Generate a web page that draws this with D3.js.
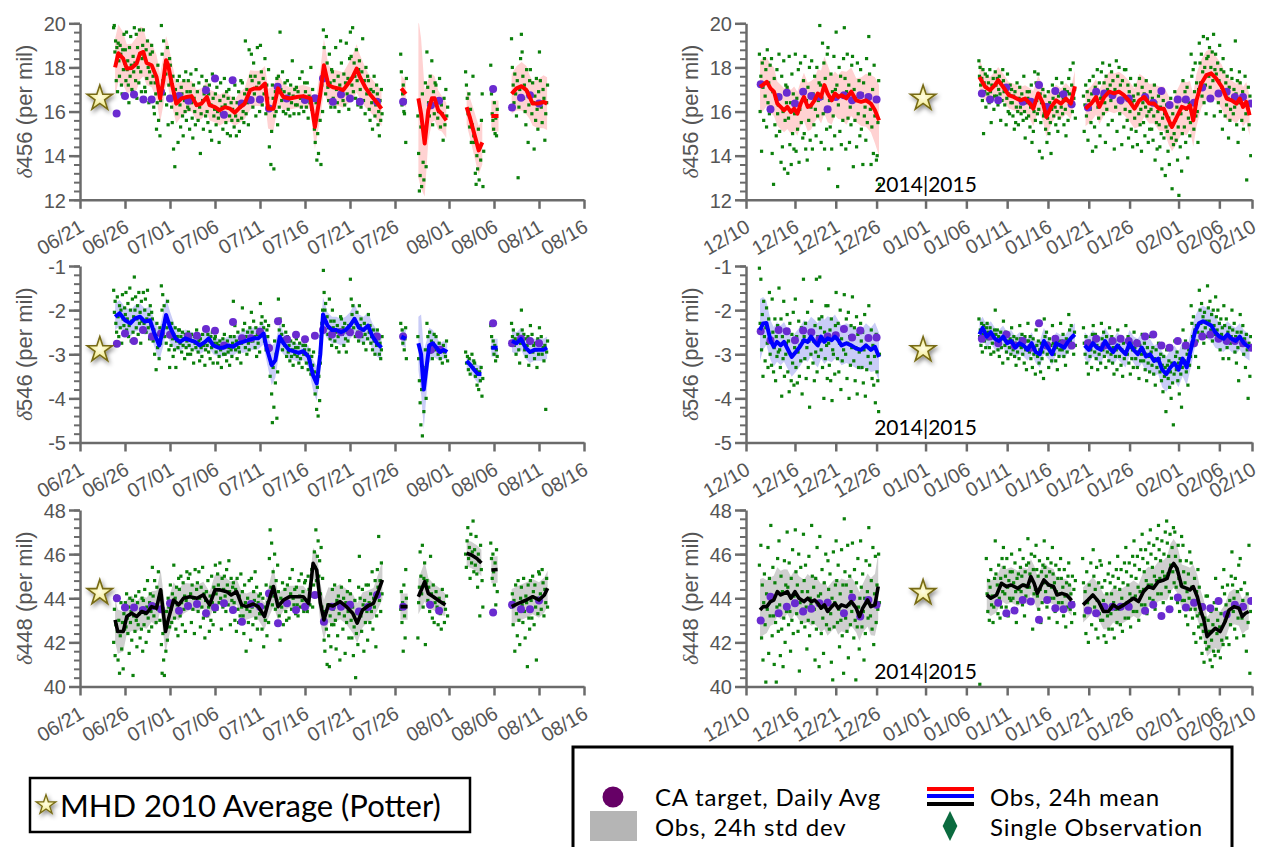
<!DOCTYPE html>
<html>
<head>
<meta charset="utf-8">
<script src="https://cdn.jsdelivr.net/npm/d3@7"></script>
<style>
  body { margin: 0; background: #fff; }
  svg text { font-family: "Liberation Sans", Helvetica, Arial, sans-serif; }
  svg text.gill { font-family: Lato, "Open Sans", sans-serif; }
</style>
</head>
<body>
<div id="chart"></div>
<script>
// ---- data: days are counted from 06/21/2014 (left) and 12/10/2014 (right) ----

const leftTicks = ["2014-06-21","2014-06-26","2014-07-01","2014-07-06","2014-07-11","2014-07-16",
  "2014-07-21","2014-07-26","2014-08-01","2014-08-06","2014-08-11","2014-08-16"];
const rightTicks = ["2014-12-10","2014-12-16","2014-12-21","2014-12-26","2015-01-01","2015-01-06",
  "2015-01-11","2015-01-16","2015-01-21","2015-01-26","2015-02-01","2015-02-06","2015-02-10"];

// MHD 2010 average (Potter) for 456, 546, 448
const potter = [16.6, -2.9, 44.25];
const potterDayL = 2.2, potterDayR = 21.7;

// single observations: [startDay, endDay, values spread over that span]
const obs456L = [
  [3.7,5,[19.8,19.9,18.7,19.2,17.4,18.9,16.9,19.1,18.3,17.6,19.0,18.6,17.2,16.8,18.8,17.9,19.5,18.2]],
  [5,6,[18.8,17.4,19.6,17.9,18.3,17.2,16.4,18.9,17.6,19.4,18.1,17.0,16.9,18.5,17.8]],
  [6,7,[19.8,18.2,17.4,19.5,16.6,18.9,18.0,17.3,19.7,18.6,17.8,16.9,18.4,19.0]],
  [7,8,[19.7,18.5,17.1,16.9,18.8,17.5,19.2,18.0,16.4,17.8,18.6,17.3,19.0]],
  [8,9,[18.7,17.6,16.2,15.9,17.3,16.8,15.2,16.4,18.1,15.6,17.0,14.9,16.5]],
  [9,10,[19.9,18.6,17.4,19.2,16.8,18.1,17.7,16.3,18.9,15.4,17.2,18.4]],
  [10,11,[18.1,17.3,16.2,15.5,17.6,14.3,16.8,13.5,17.0,16.4,15.9,17.4,14.6,16.6]],
  [11,12,[17.6,16.3,15.3,17.1,16.8,15.8,14.9,17.4,16.5,16.0,17.8,15.6,16.9,16.2]],
  [12,13,[17.4,16.1,15.2,16.9,17.7,16.4,15.7,14.8,17.2,16.6,16.0,15.4,17.9,16.3]],
  [13,14,[16.9,15.6,17.3,16.2,14.1,15.9,17.6,16.5,15.2,16.8,17.1,15.8]],
  [14,15,[17.4,16.0,15.5,16.8,17.2,15.1,16.3,14.7,17.7,16.6,15.8,16.1]],
  [15,16,[16.8,15.4,17.1,16.0,15.7,14.6,16.5,17.3,15.9,16.2,15.2,16.7]],
  [16,17,[17.5,16.3,15.5,16.9,15.0,16.6,17.0,15.8,14.9,16.4,15.6,16.1]],
  [17,18,[16.6,15.3,17.2,15.8,14.9,16.4,15.6,16.9,15.1,16.2,17.4,15.7]],
  [18,19,[17.3,16.0,15.5,16.8,19.2,15.9,17.0,16.4,15.4,18.8,16.6,17.6]],
  [19,20,[18.6,17.4,16.2,18.2,16.8,17.6,15.8,17.1,18.9,16.5,17.3,16.0]],
  [20,21,[19.0,17.8,16.3,17.5,16.8,18.4,15.9,17.2,16.6,17.9]],
  [21,22,[14.4,16.2,13.6,15.1,17.2,16.6,13.4,15.8,16.9,16.0,17.5,15.4]],
  [22,23,[17.6,16.2,19.6,17.0,16.5,17.8,16.0,16.9,17.3,15.9,16.6]],
  [23,24,[17.4,16.1,16.8,15.8,17.2,16.4,18.3,16.7,15.9,17.0,16.3]],
  [24,25,[17.1,16.3,16.9,15.9,17.5,16.6,16.2,17.8,16.5,16.0,17.3]],
  [25,26,[16.9,16.2,17.3,15.7,16.7,16.4,18.0,16.1,17.0,16.6]],
  [26,27,[15.2,14.6,16.4,13.8,15.0,14.1,16.6,15.6,13.6,17.2,16.0]],
  [27,28,[19.7,18.9,17.6,16.8,19.4,18.2,17.1,16.5,18.6,17.3,16.2,17.9]],
  [28,29,[17.8,16.6,17.4,16.2,18.9,17.0,16.4,17.6,16.0,17.2,19.2]],
  [29,30,[18.2,17.0,16.5,17.7,16.3,17.3,19.1,16.8,17.5,16.1,18.4]],
  [30,31,[19.6,18.5,17.2,19.8,16.9,18.2,17.6,16.6,18.8,17.4,16.3,17.9]],
  [31,32,[18.3,17.0,16.2,17.8,19.3,16.5,17.4,15.9,18.0,16.8,17.6]],
  [32,33,[17.4,16.1,15.6,17.0,16.4,15.2,16.9,17.6,15.8,16.3,17.2]],
  [33,33.6,[16.8,15.4,16.0,14.9,16.5,15.6,17.0,15.9]],
  [35.6,36.3,[18.6,17.8,16.3,16.8,17.2,16.0,15.9,16.5,14.6,17.5]],
  [37.5,38.5,[15.8,14.1,12.4,13.1,15.3,12.6,16.8,13.7,12.9,14.8,17.3,13.5]],
  [38.5,39.5,[18.7,17.1,16.4,15.8,17.6,16.2,18.3,15.4,16.9,15.9,17.3]],
  [39.5,40.9,[17.2,16.5,15.7,16.0,17.5,15.3,16.3,15.9,14.7,16.6,15.4,17.0,15.8,16.2]],
  [42.8,43.8,[17.8,17.2,16.6,15.9,16.8,15.3,16.1,14.6,15.4,17.6,14.9]],
  [43.8,44.9,[14.6,13.2,12.7,14.0,13.4,15.2,12.9,14.4,13.8,15.6,16.8,12.6,14.2]],
  [45.6,46.4,[18.1,16.8,15.9,15.6,15.2,16.4,15.0,15.7,14.9,16.1]],
  [47.9,49,[19.3,18.0,17.2,16.4,17.7,16.8,15.8,17.4,13.0,16.2,17.0,18.4]],
  [49,50,[19.5,18.7,17.6,16.6,17.2,16.0,15.4,17.9,16.9,14.6,16.3,17.4]],
  [50,51,[17.9,16.8,15.9,17.3,16.4,14.3,16.7,15.6,17.5,16.1,15.2,16.9]],
  [51,52,[18.7,17.4,16.2,15.5,17.0,16.6,14.7,15.9,16.4,17.2]]
];

const obs546L = [
  [3.7,5,[-1.55,-2.05,-1.8,-2.3,-2.5,-1.7,-2.15,-2.6,-1.9,-2.4,-2.0,-2.75,-1.65,-2.2,-2.35,-1.95]],
  [5,6,[-2.1,-1.6,-2.45,-2.2,-1.85,-2.6,-2.35,-1.5,-2.0,-2.7,-2.25,-1.75,-2.5,-2.15]],
  [6,7,[-1.25,-2.0,-1.7,-2.4,-2.2,-1.9,-2.55,-1.6,-2.3,-2.05,-2.75,-1.8,-2.25,-2.45]],
  [7,8,[-1.6,-2.3,-2.0,-1.75,-2.5,-2.2,-1.55,-2.4,-2.1,-2.65,-1.9,-2.35,-2.05]],
  [8,9,[-2.2,-2.7,-2.45,-3.0,-2.6,-3.35,-2.3,-2.85,-2.55,-3.1,-2.4,-2.75]],
  [9,10,[-1.45,-2.0,-1.65,-2.35,-1.9,-2.6,-2.2,-2.75,-2.4,-1.8,-2.55,-2.9,-3.3]],
  [10,11,[-2.5,-2.8,-2.3,-2.65,-3.05,-2.55,-2.9,-2.4,-3.3,-2.7,-2.6,-2.85,-2.45]],
  [11,12,[-2.45,-2.75,-2.6,-2.95,-2.5,-2.8,-2.65,-3.1,-2.55,-2.85,-2.7,-3.0]],
  [12,13,[-2.5,-2.8,-2.65,-3.0,-2.55,-2.9,-2.7,-3.2,-2.6,-2.75,-2.85,-2.45]],
  [13,14,[-2.6,-2.95,-2.7,-3.15,-2.65,-2.85,-3.05,-2.55,-2.8,-2.75,-3.25,-2.9]],
  [14,15,[-2.4,-2.8,-2.55,-2.95,-2.7,-3.1,-2.6,-2.85,-2.5,-3.2,-2.75,-2.65]],
  [15,16,[-2.6,-2.95,-2.75,-3.2,-2.8,-3.05,-2.7,-2.9,-3.3,-2.85,-2.65,-3.0]],
  [16,17,[-2.55,-3.0,-2.8,-3.15,-2.7,-2.95,-2.85,-3.25,-2.6,-2.9,-3.05,-2.75]],
  [17,18,[-1.8,-2.6,-2.35,-2.9,-2.7,-3.1,-2.5,-2.85,-2.95,-2.65,-3.2,-2.75]],
  [18,19,[-1.95,-2.45,-2.65,-2.3,-2.85,-2.6,-3.0,-2.5,-2.75,-2.9,-2.4,-2.7]],
  [19,20,[-2.05,-2.5,-2.7,-2.25,-2.6,-2.85,-2.4,-3.05,-2.55,-2.75,-2.45,-2.95]],
  [20,21,[-1.85,-2.3,-2.15,-2.55,-2.4,-2.7,-2.25,-2.9,-2.45,-2.6,-2.35]],
  [21,22,[-2.9,-3.5,-3.2,-3.9,-4.55,-3.3,-4.2,-2.7,-3.65,-3.0,-4.45,-3.4]],
  [22,23,[-1.75,-2.45,-2.2,-2.7,-2.55,-2.9,-2.35,-2.65,-2.8,-2.5,-3.05]],
  [23,24,[-2.6,-2.95,-2.8,-3.15,-2.7,-3.05,-2.9,-3.25,-2.75,-3.0,-2.85]],
  [24,25,[-2.65,-3.05,-2.85,-3.2,-2.75,-3.1,-2.95,-3.3,-2.8,-3.0,-2.9]],
  [25,26,[-2.8,-3.2,-3.0,-3.35,-2.9,-3.15,-3.45,-3.05,-3.25,-2.95]],
  [26,27,[-3.4,-3.9,-3.6,-4.25,-3.75,-4.4,-3.5,-4.05,-3.2,-2.6,-2.3,-2.0]],
  [27,28,[-1.1,-1.6,-2.0,-1.85,-2.3,-2.15,-2.55,-2.4,-1.75,-2.65,-2.25,-2.8]],
  [28,29,[-2.0,-2.4,-2.25,-2.7,-2.5,-2.85,-2.35,-2.6,-2.95,-2.45,-2.15]],
  [29,30,[-2.2,-2.55,-2.4,-2.8,-2.3,-2.65,-2.95,-2.5,-2.7,-2.35,-2.45]],
  [30,31,[-1.3,-1.75,-2.1,-1.9,-2.4,-2.2,-2.6,-2.3,-2.05,-2.5,-2.7]],
  [31,32,[-1.9,-2.35,-2.2,-2.6,-2.45,-2.75,-2.3,-2.55,-2.9,-2.4,-2.65]],
  [32,33,[-2.1,-2.5,-2.35,-2.75,-2.6,-2.9,-2.45,-2.7,-3.0,-2.55,-2.8]],
  [33,33.6,[-2.45,-2.8,-2.65,-3.0,-2.75,-3.1,-2.9,-2.6]],
  [35.6,36.3,[-2.3,-2.6,-2.45,-2.75,-2.55,-2.9,-2.65,-2.4,-3.1]],
  [37.5,38.5,[-2.6,-3.1,-3.6,-4.1,-4.6,-3.8,-4.85,-3.3,-4.3,-3.5,-2.9,-4.0]],
  [38.5,39.5,[-2.3,-2.6,-2.85,-2.5,-2.95,-2.7,-3.1,-2.75,-2.55,-2.9]],
  [39.5,40.9,[-2.6,-2.85,-3.0,-2.75,-3.1,-2.9,-3.2,-2.8,-2.95,-3.05,-2.7,-3.15]],
  [42.8,43.8,[-2.95,-3.2,-3.05,-3.35,-3.1,-3.45,-3.25,-3.0,-3.3,-3.15]],
  [43.8,44.8,[-3.2,-3.5,-3.35,-3.7,-3.45,-3.8,-3.4,-3.6,-3.3,-3.95,-3.55]],
  [45.6,46.4,[-2.35,-2.6,-2.85,-2.7,-3.0,-2.8,-3.15,-2.9,-3.05]],
  [47.9,49,[-2.3,-2.6,-2.45,-2.8,-2.65,-3.0,-2.7,-2.55,-2.9,-3.2,-2.75]],
  [49,50,[-2.0,-2.45,-2.7,-2.55,-2.9,-2.65,-3.05,-2.8,-2.6,-3.25,-2.75]],
  [50,51,[-2.35,-2.7,-2.55,-2.95,-2.8,-3.1,-2.75,-2.9,-3.3,-2.65,-3.0]],
  [51,52,[-2.4,-2.75,-2.6,-3.0,-2.85,-3.15,-2.8,-4.25,-2.95,-2.7]]
];

const obs448L = [
  [3.7,5,[42.0,43.5,41.4,42.8,44.1,42.5,41.2,43.0,40.6,42.3,43.8,41.7,42.9,40.8,43.3,42.6]],
  [5,6,[43.8,42.7,44.2,43.1,42.4,43.6,41.5,44.0,42.9,43.4,42.1,43.9,40.5,43.2]],
  [6,7,[43.6,42.5,44.1,43.0,41.8,43.8,42.8,44.3,43.3,42.2,43.5,42.6,44.0,41.6]],
  [7,8,[43.9,42.8,44.4,43.3,42.0,43.6,44.8,43.1,42.5,43.8,44.2,43.4,42.7]],
  [8,9,[45.4,44.1,43.2,44.8,43.7,42.9,44.5,43.5,45.2,44.0,43.0,44.3]],
  [9,10,[41.9,40.6,42.4,41.2,40.5,42.9,41.6,43.4,42.1,44.0,43.6,42.7]],
  [10,11,[44.6,43.5,42.9,44.2,43.8,45.5,43.1,44.0,42.6,44.5,43.7,42.3,44.9]],
  [11,12,[44.4,43.2,45.0,43.8,42.8,44.7,43.5,44.1,42.5,43.9,45.2,43.6]],
  [12,13,[44.9,43.7,45.1,44.2,42.9,44.6,43.5,44.0,42.4,45.3,43.8,44.4]],
  [13,14,[44.7,43.4,45.2,44.0,42.7,44.5,43.6,45.4,43.1,44.2,42.2,43.9]],
  [14,15,[44.3,43.2,44.8,43.6,42.5,44.1,43.0,45.0,43.8,42.8,44.5,43.4]],
  [15,16,[45.5,44.2,43.5,45.1,44.6,43.8,45.6,44.0,42.6,44.9,43.6,44.4]],
  [16,17,[45.0,44.1,43.4,45.3,44.6,43.7,45.7,44.3,42.8,44.9,43.9,44.5]],
  [17,18,[44.7,43.8,43.0,44.4,42.5,44.9,43.5,42.9,44.1,43.2,45.1,43.6]],
  [18,19,[44.3,43.2,42.4,44.6,43.8,41.6,43.5,44.0,42.9,44.8,43.4,42.1]],
  [19,20,[44.9,43.6,42.8,44.3,43.9,45.2,43.1,44.5,42.6,43.8,44.1,43.3]],
  [20,21,[44.2,43.3,42.6,44.0,41.8,43.6,43.0,44.6,42.3,43.8,42.9]],
  [21,22,[45.8,47.1,44.5,46.5,43.7,45.2,44.1,46.0,43.5,44.8,43.9,45.5]],
  [22,23,[44.3,43.2,42.1,44.0,43.6,44.7,42.8,43.9,44.4,43.4,43.0]],
  [23,24,[44.6,43.8,43.1,44.9,44.2,43.5,45.3,44.0,43.7,44.4,43.3]],
  [24,25,[44.5,43.7,43.2,44.8,44.1,43.6,45.1,43.9,44.3,43.4,44.7]],
  [25,26,[44.8,43.9,43.4,45.0,44.4,43.7,44.1,45.3,43.6,44.6]],
  [26,27,[46.1,45.4,47.1,44.8,45.9,46.6,45.0,45.7,44.2,46.3,43.6,44.9]],
  [27,28,[43.4,42.1,41.6,43.0,42.6,41.0,43.7,42.3,40.9,43.2,41.8,42.8]],
  [28,29,[44.4,43.5,42.8,44.6,43.0,41.7,43.9,42.3,44.1,43.3,41.2,43.7]],
  [29,30,[44.5,43.6,42.6,44.0,43.2,41.5,43.8,42.9,44.3,43.4,42.2,44.8]],
  [30,31,[44.2,43.0,42.2,43.6,41.4,42.7,43.9,40.4,42.4,43.3,41.9,44.5]],
  [31,32,[45.9,44.0,43.2,42.5,44.4,43.7,41.6,43.9,42.9,44.6,43.4,42.1]],
  [32,33,[44.6,43.8,42.9,44.2,43.4,45.2,42.6,44.0,43.6,44.8,41.8,43.2]],
  [33,33.6,[45.3,44.5,46.8,43.9,44.8,43.4,45.6,44.2]],
  [35.6,36.3,[43.5,44.3,42.9,43.8,41.6,44.6,43.2,42.2,45.3,44.0]],
  [37.5,38.5,[42.2,43.8,44.5,46.1,45.0,44.2,46.4,43.6,44.9,45.6,41.9,44.7]],
  [38.5,39.5,[44.8,43.9,44.5,43.4,45.9,44.2,43.1,44.6,42.9,43.8]],
  [39.5,40.9,[44.3,43.6,42.8,44.0,43.3,42.6,44.4,43.8,42.9,43.5,44.1,43.2]],
  [42.8,43.8,[46.0,45.4,46.6,47.2,45.8,46.3,44.9,46.9,45.6,46.1,47.5,45.2]],
  [43.8,44.8,[46.2,45.5,46.8,45.1,44.5,46.0,45.7,43.2,46.4,45.3,44.8,43.6]],
  [45.6,46.4,[46.5,45.8,44.9,46.0,45.2,44.6,45.6,43.7,46.2,44.3]],
  [47.9,49,[43.6,44.2,42.8,43.9,41.6,44.6,43.3,42.3,44.8,43.0,41.9,44.0]],
  [49,50,[44.5,43.7,42.9,44.9,43.4,42.2,44.1,43.8,40.9,44.6,43.1,42.6]],
  [50,51,[44.8,43.9,43.1,45.0,44.3,42.8,44.6,43.6,41.2,44.0,43.3,45.2]],
  [51,52,[45.1,44.2,43.5,45.3,44.7,43.2,44.4,43.8,44.9,43.6]]
];

const obs456R = [
  [1.6,3,[18.6,16.0,17.6,14.2,18.2,17.1,15.6,18.4,16.7,17.9,15.3,18.8,16.4,17.3,15.9,18.1]],
  [3,4,[16.2,18.4,14.1,16.9,12.7,17.5,15.4,16.6,14.9,17.9,15.9,16.3]],
  [4,5,[18.6,15.1,16.7,13.7,17.6,14.4,16.0,18.3,13.4,15.6,17.2,16.4]],
  [5,6,[17.1,13.2,15.7,18.5,14.5,16.4,13.6,17.7,15.0,16.8,14.3,15.9]],
  [6,7,[18.6,14.2,16.6,15.2,17.9,13.7,16.1,18.2,15.5,16.9,14.8]],
  [7,8,[17.4,15.0,18.5,14.3,16.5,13.8,17.1,15.6,18.0,14.7,16.2]],
  [8,9,[18.3,14.3,16.8,15.4,17.6,16.1,14.9,18.0,15.8,16.5,17.3]],
  [9,10,[19.9,17.2,14.6,16.6,19.1,15.9,18.2,14.3,17.5,16.0,15.2,18.6]],
  [10,11,[18.9,13.4,16.5,15.3,17.7,14.3,16.9,15.8,18.5,14.9,17.0]],
  [11,12,[19.6,17.2,12.6,16.3,18.0,15.1,17.6,14.5,16.7,15.6,18.4]],
  [12,13,[19.8,17.5,14.3,16.9,18.6,15.7,17.2,14.6,16.2,15.4,18.1]],
  [13,14,[18.5,13.5,17.0,15.6,16.6,14.4,18.2,15.9,17.4,14.9]],
  [14,15,[17.9,15.2,16.8,13.6,17.3,15.8,16.2,14.7,18.4,15.5,16.5]],
  [15,16.4,[19.4,17.7,16.1,13.6,15.3,17.0,14.1,18.1,15.8,16.6,13.8,14.0,15.5,17.4,12.7]],
  [28.5,29.5,[18.3,17.6,18.0,17.2,16.8,17.5,16.5,17.9,15.0,17.3,16.9,17.7,16.2,17.1]],
  [29.5,30.5,[17.6,16.8,17.3,16.4,17.9,16.9,15.5,17.2,16.6,17.5,16.1,16.7]],
  [30.5,31.5,[17.8,17.2,16.7,17.5,16.3,17.0,17.6,16.8,15.6,17.3,16.5,17.9]],
  [31.5,32.5,[17.4,16.9,16.3,17.1,15.4,16.6,17.7,16.0,16.8,15.9,17.2,16.4]],
  [32.5,33.5,[17.0,16.4,15.8,16.7,15.2,16.9,15.5,16.2,17.3,16.0,15.4,16.6]],
  [33.5,34.5,[17.1,16.2,15.9,16.8,16.5,15.6,17.6,16.0,14.8,16.4,15.7,16.9]],
  [34.5,35.5,[16.6,15.8,16.9,15.3,16.2,17.2,14.6,16.5,15.1,16.0,17.8,15.6]],
  [35.5,36.5,[17.3,16.5,15.9,17.7,16.1,14.2,16.8,15.5,16.4,13.9,17.0,15.8]],
  [36.5,37.5,[15.9,16.7,15.2,16.3,14.6,15.7,16.9,15.0,16.4,15.5,14.1,16.1]],
  [37.5,38.5,[17.2,16.6,15.8,16.9,16.2,15.4,17.5,16.0,15.1,16.7,15.7,16.4]],
  [38.5,39.5,[16.8,16.2,17.3,15.9,16.6,15.4,17.0,16.1,14.9,16.5,16.9,15.6]],
  [39.5,40.4,[17.5,16.8,17.9,16.4,17.2,16.0,18.2,16.6,17.0,15.7]],
  [41.3,42.5,[16.7,15.1,16.3,17.2,15.8,16.9,14.7,16.5,17.4,16.1,15.5,16.8,14.2]],
  [42.5,43.5,[17.6,16.5,15.3,17.1,14.4,16.8,17.9,16.2,15.7,17.3,14.9,16.6]],
  [43.5,44.5,[17.8,16.7,18.2,15.9,17.3,16.4,14.6,17.6,16.1,17.0,15.4,16.9]],
  [44.5,45.5,[18.1,17.2,16.5,17.8,15.6,17.4,16.8,14.3,17.0,16.2,18.3,15.1]],
  [45.5,46.5,[17.6,16.9,18.0,15.9,17.2,16.4,14.5,17.4,16.6,15.3,17.9,16.1]],
  [46.5,47.5,[17.9,16.6,15.6,17.2,14.8,16.9,16.0,17.5,15.2,16.4,14.4,16.7]],
  [47.5,48.5,[16.5,15.7,17.2,15.1,16.3,14.5,16.8,15.9,17.5,15.4,16.1,14.2]],
  [48.5,49.5,[17.1,16.4,15.5,16.8,14.9,16.2,17.4,15.8,16.6,14.6,16.0,15.2]],
  [49.5,50.5,[16.9,16.1,15.2,16.6,14.7,15.8,17.2,13.8,16.4,15.5,14.3,16.0]],
  [50.5,51.5,[16.7,15.4,14.4,16.2,15.0,13.4,15.7,16.5,14.8,15.9,13.1,15.3]],
  [51.5,52.5,[16.3,15.1,14.2,15.7,13.6,15.4,16.6,14.8,12.5,15.9,14.5,15.0]],
  [52.5,53.5,[16.9,15.6,14.7,16.2,13.8,15.3,12.2,16.5,14.4,15.9,13.3,15.0]],
  [53.5,54.5,[17.4,16.5,15.3,16.9,14.6,16.1,17.1,13.9,15.7,16.4,14.9,15.5]],
  [54.5,55.5,[18.6,17.6,16.4,17.9,15.2,16.9,18.2,15.8,17.3,16.0,14.6,17.0]],
  [55.5,56.5,[19.1,18.2,17.3,18.6,16.7,17.8,19.4,16.4,18.0,17.2,15.9,18.4]],
  [56.5,57.5,[19.3,18.5,17.6,18.9,17.1,18.0,16.5,18.7,17.4,19.5,15.8,17.9]],
  [57.5,58.5,[18.6,17.7,16.8,18.2,16.4,17.4,19.0,16.0,17.9,17.1,15.2,18.4]],
  [58.5,59.5,[17.8,16.9,15.8,17.3,16.3,17.6,16.6,14.8,17.1,15.6,16.1,17.9]],
  [59.5,60.5,[17.5,16.6,15.9,17.0,16.2,19.2,16.8,15.4,17.4,14.6,16.4,17.8]],
  [60.5,61.9,[17.3,16.4,15.6,16.9,15.2,16.6,17.6,15.9,12.9,16.2,17.1,15.4,16.7,14.0]]
];

const obs546R = [
  [1.6,3,[-1.05,-2.3,-1.3,-2.9,-2.1,-3.5,-1.8,-2.6,-3.15,-2.4,-1.95,-2.75,-3.3,-2.2,-1.6,-3.0]],
  [3,4,[-2.7,-3.25,-1.75,-2.5,-3.4,-2.85,-2.2,-3.6,-2.6,-3.05,-2.35,-2.95]],
  [4,5,[-1.5,-2.9,-3.3,-2.2,-3.95,-2.6,-3.1,-1.8,-3.5,-2.45,-3.0,-2.75]],
  [5,6,[-2.1,-3.4,-2.7,-3.85,-2.3,-3.0,-3.6,-2.55,-3.2,-2.05,-3.7,-2.85]],
  [6,7,[-1.75,-3.3,-2.6,-3.65,-2.95,-2.25,-3.5,-2.8,-3.15,-2.4,-3.9,-2.7]],
  [7,8,[-1.3,-2.6,-3.1,-2.3,-3.55,-2.85,-2.05,-3.3,-2.7,-4.2,-2.5,-3.0]],
  [8,9,[-1.8,-2.5,-3.2,-2.7,-3.6,-2.35,-2.95,-1.3,-3.4,-2.6,-3.05,-2.2]],
  [9,10,[-1.25,-2.4,-2.9,-2.15,-3.3,-2.65,-4.0,-2.5,-3.1,-1.9,-2.8,-3.55]],
  [10,11,[-1.9,-2.75,-3.25,-2.45,-3.6,-2.2,-4.05,-2.9,-3.0,-2.6,-3.45,-2.35]],
  [11,12,[-1.6,-2.55,-3.1,-2.3,-3.4,-2.75,-2.0,-3.8,-2.65,-3.15,-2.4,-2.9]],
  [12,13,[-1.65,-2.45,-3.0,-2.2,-3.55,-2.75,-2.05,-4.0,-2.6,-3.25,-2.35,-2.85]],
  [13,14,[-1.7,-2.6,-3.15,-2.4,-3.6,-2.85,-2.15,-3.9,-2.55,-3.3,-2.95,-2.5]],
  [14,15,[-2.3,-2.7,-3.3,-2.5,-3.65,-2.9,-2.1,-3.95,-2.8,-3.35,-2.6,-3.05]],
  [15,16.4,[-1.9,-2.65,-3.2,-2.45,-3.55,-2.8,-3.7,-3.05,-4.1,-2.55,-3.4,-3.6,-4.3,-3.0]],
  [28.5,29.5,[-2.2,-2.6,-2.45,-2.8,-2.3,-2.95,-2.55,-2.35,-2.7,-2.5,-2.85,-2.4]],
  [29.5,30.5,[-2.3,-2.65,-2.5,-2.85,-2.4,-3.0,-2.6,-2.75,-2.55,-2.95,-2.45]],
  [30.5,31.5,[-2.0,-2.55,-2.7,-2.45,-2.9,-2.6,-3.05,-2.75,-2.5,-2.85,-2.65,-3.2]],
  [31.5,32.5,[-2.25,-2.6,-2.8,-2.5,-2.95,-2.7,-3.1,-2.55,-2.85,-2.65,-3.0]],
  [32.5,33.5,[-2.4,-2.7,-2.9,-2.6,-3.05,-2.75,-3.25,-2.65,-2.95,-2.8,-3.1]],
  [33.5,34.5,[-2.35,-2.65,-2.85,-2.55,-3.0,-2.75,-3.2,-2.6,-2.9,-3.35,-2.7]],
  [34.5,35.5,[-2.3,-2.7,-2.95,-2.6,-3.1,-2.8,-3.3,-2.65,-3.0,-2.85,-3.45]],
  [35.5,36.5,[-2.45,-2.8,-3.05,-2.7,-3.2,-2.9,-3.4,-2.75,-3.1,-2.95,-3.55]],
  [36.5,37.5,[-2.2,-2.6,-2.85,-2.5,-3.0,-2.75,-3.3,-2.65,-2.95,-2.8,-3.15]],
  [37.5,38.5,[-2.35,-2.75,-3.0,-2.6,-3.15,-2.85,-3.35,-2.7,-3.05,-2.9]],
  [38.5,39.5,[-2.3,-2.7,-2.9,-2.55,-3.05,-2.8,-3.25,-2.65,-2.95,-2.75]],
  [39.5,40.4,[-2.1,-2.45,-2.7,-2.35,-2.85,-2.6,-3.0,-2.5,-2.8]],
  [41.3,42.5,[-2.4,-2.75,-3.0,-2.6,-3.2,-2.85,-3.45,-2.7,-3.05,-2.9,-3.3,-2.55]],
  [42.5,43.5,[-2.35,-2.7,-2.95,-2.55,-3.1,-2.8,-3.35,-2.65,-3.0,-2.85,-3.2]],
  [43.5,44.5,[-2.3,-2.65,-2.9,-2.5,-3.05,-2.75,-3.3,-2.6,-2.95,-2.8,-3.15]],
  [44.5,45.5,[-2.4,-2.75,-3.0,-2.6,-3.2,-2.85,-3.45,-2.7,-3.05,-2.9,-3.35]],
  [45.5,46.5,[-2.45,-2.8,-3.05,-2.65,-3.25,-2.9,-3.5,-2.75,-3.1,-2.95]],
  [46.5,47.5,[-2.35,-2.7,-3.0,-2.6,-3.2,-2.85,-3.45,-2.75,-3.1,-2.9,-3.3]],
  [47.5,48.5,[-2.5,-2.85,-3.1,-2.7,-3.3,-2.95,-3.55,-2.8,-3.15,-3.0]],
  [48.5,49.5,[-2.55,-2.9,-3.15,-2.75,-3.35,-3.0,-3.6,-2.85,-3.2,-3.05,-3.4]],
  [49.5,50.5,[-2.6,-2.95,-3.25,-2.85,-3.45,-3.1,-3.7,-2.9,-3.3,-3.15]],
  [50.5,51.5,[-2.75,-3.1,-3.4,-3.0,-3.6,-3.25,-3.85,-3.05,-3.5,-3.3,-4.3]],
  [51.5,52.5,[-2.9,-3.25,-3.55,-3.15,-3.75,-3.4,-4.0,-3.2,-3.65,-4.6,-3.45]],
  [52.5,53.5,[-2.7,-3.05,-3.35,-2.95,-3.6,-3.2,-3.9,-3.1,-3.45,-4.2,-3.3]],
  [53.5,54.5,[-2.45,-2.85,-3.15,-2.7,-3.4,-3.0,-3.7,-2.9,-3.25,-3.05]],
  [54.5,55.5,[-1.9,-2.3,-2.6,-2.15,-2.8,-2.45,-3.05,-2.35,-2.7,-2.5,-3.3]],
  [55.5,56.5,[-1.55,-2.0,-2.3,-1.85,-2.5,-2.15,-2.75,-2.05,-2.4,-2.25,-2.6]],
  [56.5,57.5,[-1.45,-1.95,-2.25,-1.8,-2.45,-2.1,-2.7,-2.0,-2.35,-2.55]],
  [57.5,58.5,[-1.7,-2.15,-2.45,-2.0,-2.65,-2.3,-2.9,-2.2,-2.55,-2.4,-3.1]],
  [58.5,59.5,[-1.9,-2.35,-2.65,-2.2,-2.85,-2.5,-3.1,-2.4,-2.75,-2.6]],
  [59.5,60.5,[-2.0,-2.45,-2.7,-2.3,-2.95,-2.6,-3.2,-2.5,-2.85,-3.6,-2.65]],
  [60.5,61.9,[-2.1,-2.5,-2.8,-2.35,-3.0,-2.65,-3.3,-2.55,-2.9,-4.0,-2.75,-3.5,-2.6]]
];

const obs448R = [
  [1.6,3,[45.5,43.0,46.4,42.2,44.6,41.2,43.8,45.1,42.8,40.2,44.2,43.5,46.3,41.5,44.9,43.2]],
  [3,4,[47.3,44.0,42.3,45.4,43.2,41.0,44.7,42.9,40.2,43.6,45.8,42.5]],
  [4,5,[46.6,43.7,41.4,45.0,42.6,44.3,40.9,43.1,45.7,42.0,44.6,43.4]],
  [5,6,[47.0,44.5,42.8,45.6,43.4,41.6,44.9,43.0,46.2,42.4,44.1,43.7]],
  [6,7,[47.1,45.2,43.3,44.6,42.5,46.0,40.7,43.8,45.4,42.9,44.3,43.5]],
  [7,8,[46.9,44.8,42.7,45.5,43.6,41.7,44.3,43.0,45.9,42.3,44.0,43.7]],
  [8,9,[47.3,45.0,42.9,44.5,43.5,41.2,44.9,42.6,46.3,43.8,44.1,40.9]],
  [9,10,[46.8,44.2,42.4,45.3,43.1,41.5,44.7,43.6,46.0,42.8,43.9]],
  [10,11,[45.7,44.4,42.6,45.1,43.3,41.1,44.0,40.3,46.1,42.7,43.8,44.6]],
  [11,12,[46.6,44.8,42.9,45.5,43.5,41.8,44.2,43.0,46.2,42.3,44.6,40.6]],
  [12,13,[47.6,45.2,43.1,44.6,42.5,46.4,41.3,43.7,45.0,42.8,44.3,43.4]],
  [13,14,[46.5,44.1,42.2,45.3,43.0,40.3,44.7,42.7,45.8,43.6,41.7,44.0]],
  [14,15,[46.6,44.5,42.7,45.1,43.4,41.2,44.0,42.4,45.7,43.8,44.3,43.1]],
  [15,16.4,[47.2,45.5,43.2,44.8,42.6,46.3,41.9,44.2,45.9,42.9,44.6,43.5,46.0,43.8]],
  [28.6,28.7,[40.1]],
  [29.4,30.5,[45.8,44.2,43.4,44.8,43.0,44.5,45.3,43.7,44.1,42.9,43.6,44.9]],
  [30.5,31.5,[46.6,45.1,43.8,44.6,43.3,45.5,44.0,43.1,44.9,43.6,45.8,44.3]],
  [31.5,32.5,[46.3,45.4,44.2,45.0,43.6,45.8,44.5,43.2,44.8,44.0,45.2,43.9]],
  [32.5,33.5,[46.0,45.2,44.0,44.7,43.5,45.6,44.3,42.9,44.9,43.8,45.1,44.4]],
  [33.5,34.5,[46.2,45.4,44.3,45.0,43.7,45.8,44.6,43.2,45.2,44.1,45.5,44.5]],
  [34.5,35.5,[46.7,45.6,44.5,45.1,43.9,46.0,44.8,42.6,45.3,44.2,45.9,44.4]],
  [35.5,36.5,[46.4,45.3,44.1,45.0,43.5,45.7,44.4,42.9,45.2,43.8,45.5,44.7]],
  [36.5,37.5,[46.6,45.4,44.3,45.0,43.6,45.8,44.6,43.1,45.2,44.0,45.6,44.5]],
  [37.5,38.5,[46.3,45.1,44.0,44.7,43.4,45.5,44.3,42.9,44.9,43.8,45.3,44.2]],
  [38.5,39.5,[45.8,44.9,43.8,44.5,43.2,45.3,44.1,42.7,44.7,43.6,45.0]],
  [39.5,40.4,[45.6,44.6,43.5,44.2,42.9,45.0,43.8,44.4,43.3,44.8]],
  [41.2,42.5,[45.8,44.7,43.2,44.3,42.4,45.2,43.8,42.0,44.6,43.5,45.6,42.8,44.1]],
  [42.5,43.5,[46.2,45.0,43.6,44.4,42.6,45.4,43.9,42.2,44.7,43.3,45.7,43.0]],
  [43.5,44.5,[45.5,44.5,43.0,43.9,42.3,44.8,43.5,42.0,44.2,43.2,45.1,42.6]],
  [44.5,45.5,[45.6,44.7,43.3,44.2,42.6,45.0,43.8,42.2,44.5,43.5,45.3,42.9]],
  [45.5,46.5,[45.9,44.9,43.5,44.4,42.8,45.3,44.0,42.5,44.7,43.7,45.6,43.1]],
  [46.5,47.5,[46.3,45.2,43.8,44.6,43.1,45.6,44.2,42.7,45.0,44.0,45.9,43.4]],
  [47.5,48.5,[46.6,45.5,44.1,44.9,43.4,45.9,44.5,43.0,45.3,44.3,46.2,43.7]],
  [48.5,49.5,[46.9,45.8,44.4,45.2,43.7,46.2,44.8,43.3,45.6,44.6,46.5,44.0]],
  [49.5,50.5,[47.1,46.0,44.6,45.4,43.9,46.4,45.0,43.5,45.8,44.8,46.7,44.2]],
  [50.5,51.5,[47.3,46.2,44.9,45.7,44.2,46.6,45.2,43.8,46.0,45.0,47.0,44.5]],
  [51.5,52.5,[47.5,46.5,45.1,45.9,44.3,46.9,45.5,44.0,46.3,45.2,47.2,44.7]],
  [52.5,53.5,[47.0,45.9,44.5,45.3,43.8,46.4,44.9,43.4,45.7,44.6,46.8,43.9]],
  [53.5,54.5,[46.4,45.2,43.9,44.7,43.2,45.7,44.3,42.8,45.1,44.0,46.1,43.5]],
  [54.5,55.5,[45.6,44.5,43.1,43.9,42.4,44.9,43.5,42.0,44.3,43.2,45.3,42.7]],
  [55.5,56.5,[44.5,43.3,42.2,42.8,41.5,43.7,42.5,41.1,43.1,42.0,44.1,41.7]],
  [56.5,57.5,[44.1,43.0,41.8,42.5,41.2,43.4,42.1,40.9,42.8,41.6,43.8,41.4]],
  [57.5,58.5,[44.9,43.5,42.4,43.0,41.6,43.9,42.7,41.3,43.3,42.1,44.5,41.9]],
  [58.5,59.5,[45.3,44.2,43.0,43.7,42.2,44.6,43.4,41.9,43.9,42.8,45.0]],
  [59.5,60.5,[46.1,44.6,43.4,44.0,42.6,44.9,43.7,42.2,44.3,43.1,45.5,43.6]],
  [60.5,61.9,[45.8,44.4,43.1,43.9,42.3,44.7,43.6,41.6,44.2,42.9,46.4,40.6,43.4]]
];

// 24h mean and 24h std dev: segments of [day, mean, sd]
const mean456L = [
  [[3.9,18.0,1.3],[4.26,18.64,1.3],[4.8,18.4,1.2],[5.2,17.95,1.1],[5.74,17.97,1.1],[6.3,18.18,1.2],[6.67,18.64,1.2],
   [7.04,18.7,1.1],[7.4,18.2,1.0],[7.96,18.1,1.0],[8.5,17.57,1.0],[8.9,16.59,1.1],[9.26,17.4,1.1],[9.56,18.33,1.1],
   [9.8,18.1,1.0],[10.2,17.27,1.0],[10.7,16.36,0.9],[11.3,16.6,0.8],[11.85,16.66,0.7],[12.4,16.7,0.7],[12.96,16.29,0.7],
   [13.5,16.36,0.7],[14.1,16.66,0.7],[14.4,16.29,0.7],[15,16.2,0.7],[15.5,16.06,0.7],[16.1,16.2,0.7],[16.67,16.13,0.6],
   [17.2,15.95,0.6],[17.8,16.2,0.7],[18.3,16.36,0.7],[18.9,16.97,0.9],[19.4,17.05,0.8],[20,17.05,0.8],[20.56,17.27,0.8],
   [20.9,16.13,0.9],[21.5,16.13,1.0],[22,17.05,0.7],[22.6,16.66,0.6],[23.3,16.59,0.5],[24.1,16.66,0.5],[24.8,16.7,0.5],
   [25.6,16.6,0.5],[26.1,15.3,1.0],[26.7,16.8,1.1],[27.1,18.1,1.2],[27.6,17.2,0.9],[28.1,17.1,0.8],[28.7,17.05,0.8],
   [29.25,16.97,0.8],[29.8,17.27,0.9],[30.3,17.57,1.0],[30.74,17.95,1.1],[31.1,17.57,1.0],[31.7,17.1,0.9],[32.2,16.8,0.8],
   [32.8,16.5,0.8],[33.5,16.13,0.8]],
  [[35.7,17.05,0.6],[36.2,16.8,0.6]],
  [[37.6,16.6,3.6],[37.9,15.9,3.4],[38.3,14.55,2.4],[38.7,16.06,1.4],[39.1,16.6,1.1],[39.4,16.6,1.0],[39.8,16.06,0.9],
   [40.2,15.9,0.8],[40.7,15.6,0.8]],
  [[42.96,16.2,0.8],[43.3,15.76,0.9],[43.7,15.15,1.0],[44.3,14.24,1.1],[44.7,14.6,1.0]],
  [[45.7,15.8,0.7],[46.5,15.8,0.7]],
  [[47.96,16.8,0.9],[48.5,17.05,1.0],[49.07,17.15,1.1],[49.6,16.97,1.1],[49.96,16.66,1.0],[50.3,16.36,1.0],
   [50.9,16.36,1.1],[51.5,16.44,1.2],[51.9,16.36,1.2]]
];

const mean546L = [
  [[3.9,-2.15,0.3],[4.4,-2.07,0.3],[5.0,-2.23,0.3],[5.6,-2.3,0.3],[6.1,-2.19,0.3],[6.67,-2.15,0.3],[7.2,-2.26,0.3],
   [7.78,-2.23,0.3],[8.2,-2.49,0.3],[8.8,-2.8,0.35],[9.3,-2.38,0.4],[9.56,-2.11,0.4],[10.0,-2.38,0.35],[10.6,-2.64,0.25],
   [11.1,-2.72,0.2],[11.7,-2.64,0.2],[12.2,-2.68,0.2],[12.8,-2.72,0.2],[13.3,-2.8,0.2],[13.9,-2.72,0.2],[14.3,-2.64,0.2],
   [14.8,-2.8,0.2],[15.4,-2.85,0.2],[15.9,-2.85,0.2],[16.5,-2.8,0.2],[17.0,-2.83,0.2],[17.6,-2.75,0.2],[18.1,-2.72,0.25],
   [18.7,-2.68,0.25],[19.3,-2.64,0.25],[19.8,-2.64,0.25],[20.4,-2.53,0.25],[20.7,-2.83,0.3],[21.3,-3.25,0.45],
   [21.7,-3.14,0.4],[22.2,-2.6,0.3],[22.6,-2.75,0.25],[23.2,-2.9,0.2],[23.7,-2.93,0.2],[24.3,-2.97,0.2],[24.8,-2.93,0.2],
   [25.4,-3.06,0.25],[25.9,-3.48,0.35],[26.3,-3.66,0.4],[26.7,-3.0,0.45],[27.0,-2.1,0.4],[27.5,-2.35,0.3],[28,-2.45,0.3],
   [28.5,-2.45,0.3],[29,-2.5,0.3],[29.5,-2.45,0.3],[30,-2.35,0.3],[30.5,-2.2,0.35],[31,-2.4,0.3],[31.5,-2.45,0.3],
   [32,-2.35,0.3],[32.5,-2.6,0.3],[33,-2.75,0.3],[33.5,-2.85,0.3]],
  [[35.7,-2.6,0.2],[36.2,-2.65,0.2]],
  [[37.6,-2.75,0.6],[37.9,-3.0,0.9],[38.2,-3.8,0.9],[38.5,-3.3,0.6],[38.8,-2.8,0.4],[39.2,-2.75,0.3],[39.6,-2.85,0.25],
   [40,-2.95,0.2],[40.4,-2.9,0.2],[40.8,-2.95,0.2]],
  [[42.96,-3.15,0.15],[43.4,-3.25,0.15],[43.8,-3.35,0.2],[44.2,-3.45,0.2],[44.6,-3.45,0.2]],
  [[45.7,-2.85,0.2],[46.4,-2.85,0.2]],
  [[48,-2.7,0.25],[48.5,-2.75,0.25],[49,-2.65,0.25],[49.5,-2.85,0.25],[50,-2.95,0.25],[50.5,-2.9,0.25],[51,-2.9,0.25],
   [51.5,-2.9,0.25],[51.9,-2.85,0.25]]
];

const mean448L = [
  [[3.9,43.02,1.0],[4.2,42.49,1.0],[4.8,42.49,0.9],[5.2,43.17,0.8],[5.74,43.32,0.8],[6.3,43.17,0.7],[6.85,43.4,0.7],
   [7.4,43.32,0.7],[7.96,43.62,0.7],[8.5,43.55,0.8],[8.96,44.38,0.9],[9.5,42.49,1.0],[9.8,43.02,0.9],[10.4,43.92,0.8],
   [10.96,43.7,0.7],[11.5,44.0,0.7],[12.2,44.07,0.6],[13.0,44.0,0.6],[13.7,44.15,0.6],[14.4,43.7,0.6],[15.0,44.38,0.7],
   [15.5,44.38,0.7],[16.3,44.3,0.6],[16.8,44.15,0.6],[17.4,44.3,0.6],[17.96,43.7,0.6],[18.5,43.62,0.6],[19.26,43.74,0.6],
   [19.8,43.62,0.6],[20.5,43.17,0.6],[20.9,43.77,0.7],[21.5,44.53,0.9],[22.0,43.62,0.6],[22.6,43.92,0.5],[23.3,44.07,0.5],
   [24.1,44.07,0.5],[24.8,44.07,0.5],[25.4,43.77,0.5],[25.9,45.58,0.7],[26.3,45.28,0.8],[26.7,43.8,0.9],[27.1,43.02,0.9],
   [27.6,43.7,0.8],[28.1,43.65,0.8],[28.9,43.85,0.8],[29.6,43.62,0.8],[30.3,43.32,0.9],[30.8,42.87,0.9],[31.4,43.47,0.8],
   [32.0,43.65,0.7],[32.6,43.77,0.7],[33.2,44.38,0.8],[33.6,44.83,0.9]],
  [[35.6,43.62,0.6],[36.4,43.62,0.6]],
  [[37.6,44.07,0.8],[38.3,44.75,0.9],[38.7,44.22,0.7],[39.26,44.07,0.6],[40.0,43.85,0.6],[40.6,43.7,0.5]],
  [[42.96,46.04,0.6],[43.5,45.96,0.6],[44.1,45.8,0.6],[44.6,45.6,0.6]],
  [[45.7,45.28,0.6],[46.4,45.3,0.6]],
  [[47.96,43.62,0.8],[48.7,43.77,0.8],[49.6,43.92,0.8],[50.3,44.07,0.8],[51.0,43.92,0.8],[51.6,44.15,0.8],[51.96,44.45,0.8]]
];

const mean456R = [
  [[1.72,17.12,1.2],[2.05,17.2,1.2],[2.55,17.35,1.1],[3.0,17.05,1.1],[3.43,16.9,1.1],[3.84,16.36,1.0],[4.25,16.21,1.0],
   [4.66,16.06,1.0],[5.07,16.21,1.0],[5.5,15.98,1.0],[5.9,16.13,1.0],[6.3,15.9,1.0],[6.7,16.36,1.0],[7.1,16.66,1.1],
   [7.56,16.21,1.1],[7.97,16.28,1.1],[8.4,16.51,1.0],[8.8,16.82,1.1],[9.2,16.66,1.2],[9.6,17.2,1.3],[10.0,16.82,1.3],
   [10.5,16.51,1.1],[10.9,16.82,1.0],[11.3,16.66,1.0],[11.7,16.74,1.1],[12.3,16.6,1.2],[12.9,16.9,1.1],[13.5,16.51,1.0],
   [14.1,16.44,1.1],[14.7,16.51,1.2],[15.3,16.36,1.3],[15.8,16.06,1.5],[16.3,15.6,1.6]],
  [[28.6,17.57,0.8],[29.3,17.12,0.6],[29.9,16.97,0.6],[30.5,17.2,0.6],[30.9,17.42,0.6],[31.5,17.12,0.6],[32.2,16.74,0.6],
   [32.8,16.66,0.6],[33.6,16.51,0.6],[34.2,16.59,0.6],[34.8,16.36,0.7],[35.2,16.13,0.8],[35.8,16.82,0.8],[36.4,16.36,0.8],
   [36.8,15.76,0.9],[37.4,16.21,0.8],[38.0,16.51,0.7],[38.6,16.36,0.7],[39.2,16.59,0.7],[39.8,16.36,0.7],[40.3,17.15,0.7]],
  [[41.6,16.13,0.8],[42.3,16.36,0.8],[42.9,16.66,0.8],[43.3,16.21,0.8],[43.9,16.66,0.8],[44.5,16.9,0.9],[45.1,16.82,0.9],
   [45.7,16.9,0.9],[46.3,16.74,0.9],[46.9,16.51,0.9],[47.6,16.13,0.9],[48.2,16.51,1.2],[48.8,16.66,0.9],[49.4,16.36,0.9],
   [50.0,16.36,0.9],[50.6,16.13,1.0],[51.2,16.13,1.0],[51.8,15.6,1.1],[52.2,15.3,1.1],[52.8,15.76,1.2],[53.4,16.21,1.2],
   [54.0,16.13,1.2],[54.4,16.28,1.1],[54.8,15.6,1.2],[55.2,16.51,1.2],[55.8,17.27,1.1],[56.4,17.65,1.1],[57.0,17.73,1.1],
   [57.6,17.5,1.0],[58.3,17.12,1.0],[58.9,16.59,1.0],[59.5,16.51,0.9],[60.1,16.36,0.9],[60.5,16.59,0.9],[60.9,16.21,0.9],
   [61.3,16.44,0.9],[61.7,15.83,0.9]]
];

const mean546R = [
  [[1.72,-2.45,0.7],[2.1,-2.3,0.6],[2.5,-2.29,0.5],[3.0,-2.68,0.45],[3.4,-2.83,0.45],[3.8,-2.72,0.45],[4.25,-2.8,0.45],
   [4.66,-2.72,0.45],[5.07,-2.87,0.45],[5.6,-3.06,0.45],[6.1,-2.95,0.45],[6.6,-2.83,0.45],[7.1,-2.68,0.45],[7.56,-2.72,0.45],
   [7.97,-2.6,0.45],[8.4,-2.72,0.5],[8.8,-2.8,0.5],[9.2,-2.6,0.5],[9.6,-2.72,0.5],[10.0,-2.64,0.5],[10.5,-2.68,0.5],
   [10.9,-2.6,0.5],[11.3,-2.68,0.45],[11.7,-2.8,0.45],[12.3,-2.75,0.45],[12.9,-2.8,0.45],[13.5,-2.87,0.45],[14.1,-2.9,0.45],
   [14.7,-2.8,0.5],[15.3,-2.9,0.5],[15.8,-2.83,0.55],[16.3,-3.06,0.55]],
  [[28.6,-2.55,0.3],[29,-2.4,0.25],[29.5,-2.6,0.25],[30,-2.5,0.25],[30.5,-2.65,0.25],[31,-2.7,0.25],[31.5,-2.6,0.25],
   [32,-2.75,0.25],[32.5,-2.7,0.25],[33,-2.85,0.25],[33.5,-2.75,0.25],[34,-2.8,0.25],[34.5,-2.9,0.25],[35,-2.75,0.25],
   [35.5,-2.95,0.25],[36,-3.0,0.3],[36.5,-2.7,0.3],[37,-2.85,0.25],[37.5,-3.0,0.25],[38,-2.75,0.25],[38.5,-2.8,0.25],
   [39,-2.85,0.25],[39.5,-2.7,0.25],[40,-2.6,0.25],[40.3,-2.55,0.25]],
  [[41.5,-2.8,0.3],[42,-2.9,0.3],[42.5,-2.75,0.3],[43,-2.85,0.3],[43.5,-2.9,0.3],[44,-2.7,0.3],[44.5,-2.85,0.3],
   [45,-2.95,0.3],[45.5,-2.8,0.3],[46,-2.9,0.3],[46.5,-3.0,0.3],[47,-2.75,0.3],[47.5,-2.9,0.3],[48,-3.0,0.35],
   [48.5,-2.85,0.35],[49,-3.05,0.35],[49.5,-3.0,0.35],[50,-3.15,0.35],[50.5,-3.1,0.35],[51,-3.35,0.4],[51.5,-3.45,0.4],
   [52,-3.3,0.4],[52.5,-3.2,0.4],[53,-3.35,0.4],[53.5,-3.1,0.4],[54,-3.3,0.4],[54.5,-2.9,0.4],[55,-2.5,0.35],
   [55.5,-2.3,0.35],[56,-2.25,0.35],[56.5,-2.3,0.35],[57,-2.35,0.35],[57.5,-2.5,0.35],[58,-2.6,0.3],[58.5,-2.65,0.3],
   [59,-2.55,0.3],[59.5,-2.65,0.3],[60,-2.7,0.3],[60.5,-2.6,0.3],[61,-2.75,0.3],[61.7,-2.85,0.3]]
];

const mean448R = [
  [[1.72,43.47,1.4],[2.1,43.62,1.3],[2.55,43.62,1.2],[3.0,43.85,1.1],[3.4,43.92,1.1],[3.84,44.3,1.1],[4.25,44.15,1.1],
   [4.66,44.22,1.1],[5.07,44.3,1.0],[5.5,44.0,1.0],[6.0,44.3,1.0],[6.5,44.0,1.0],[7.1,43.85,1.0],[7.56,44.0,1.1],
   [8.0,43.85,1.1],[8.4,43.92,1.1],[8.8,43.77,1.1],[9.2,43.55,1.1],[9.6,43.7,1.1],[10.0,43.4,1.1],[10.5,43.62,1.1],
   [10.9,43.77,1.1],[11.3,43.55,1.2],[11.7,43.7,1.2],[12.3,43.62,1.2],[12.9,43.85,1.1],[13.5,43.55,1.1],[13.9,43.17,1.1],
   [14.3,43.55,1.1],[14.9,43.92,1.2],[15.3,43.62,1.3],[15.8,43.7,1.4],[16.2,44.53,1.5]],
  [[29.5,44.15,0.8],[30.0,44.0,0.8],[30.7,44.15,0.8],[31.3,44.68,0.8],[31.9,44.53,0.8],[32.5,44.6,0.8],[33.3,44.45,0.8],
   [33.9,44.6,0.8],[34.5,44.53,0.8],[34.9,44.98,0.8],[35.3,44.68,0.8],[35.7,44.22,0.8],[36.1,44.53,0.8],[36.5,44.83,0.8],
   [37.1,44.6,0.8],[37.7,44.53,0.8],[38.1,44.15,0.7],[38.7,44.22,0.7],[39.3,44.15,0.7],[39.9,43.9,0.7]],
  [[41.3,43.7,0.8],[41.9,43.92,0.8],[42.5,44.15,0.8],[43.2,43.85,0.8],[43.8,43.4,0.8],[44.4,43.4,0.8],[45.0,43.7,0.8],
   [45.6,43.55,0.8],[46.3,43.7,0.8],[46.9,43.85,0.8],[47.5,44.0,0.8],[48.1,43.85,0.8],[48.7,44.3,0.9],[49.3,44.53,0.9],
   [49.9,44.45,0.9],[50.5,44.75,0.9],[51.2,44.83,0.9],[51.6,44.9,1.0],[52.0,45.36,1.1],[52.4,45.58,1.1],[52.8,45.36,1.1],
   [53.4,44.53,1.0],[54.0,44.45,1.0],[54.4,44.38,1.0],[54.8,44.53,1.0],[55.3,44.07,1.0],[55.7,43.47,0.9],[56.1,43.02,0.9],
   [56.5,42.26,0.9],[56.9,42.42,0.9],[57.5,42.64,0.9],[58.1,42.49,0.9],[58.7,42.94,0.8],[59.2,43.47,0.8],[59.8,43.62,0.8],
   [60.4,43.55,0.8],[60.8,43.17,0.8],[61.2,43.32,0.8],[61.6,43.4,0.8]]
];

// CA target, daily average: [day, value]
const ca456L = [[4.07,15.91],[5,16.71],[6,16.77],[7.04,16.55],[7.96,16.55],[9,16.9],[10,16.59],[11,16.7],[12.04,16.49],
  [14,16.97],[15,17.5],[16,15.86],[16.96,17.42],[17.96,16.36],[18.96,16.52],[20,16.55],[21,16.14],[21.96,17.12],
  [22.96,16.59],[25,16.52],[26.1,16.6],[27,17.5],[28.1,16.44],[29,16.77],[30,16.59],[31.1,16.44],[33,16.44],
  [35.9,16.44],[39,16.29],[39.9,16.49],[45.9,17.02],[48,16.18],[49,16.62],[50,16.74],[51,16.36]];
const ca546L = [[4.1,-2.76],[5,-2.53],[6,-2.7],[7,-2.45],[8,-2.6],[9,-2.53],[10,-2.56],[12,-2.59],[13,-2.58],[14,-2.43],
  [15,-2.47],[16,-2.8],[17,-2.27],[18,-2.64],[19,-2.64],[20,-2.49],[21,-2.86],[22,-2.25],[23,-2.66],[24,-2.56],[25,-2.66],
  [26.1,-2.58],[27,-2.45],[28,-2.55],[29,-2.5],[30,-2.5],[31,-2.55],[33,-2.6],[35.9,-2.6],[39,-2.9],[40,-2.9],
  [45.9,-2.3],[48,-2.75],[49,-2.65],[50,-2.7],[51,-2.75]];
const ca448L = [[4.1,44.0],[5,43.58],[6,43.58],[7,43.47],[8,43.65],[9,43.5],[10,43.77],[11,43.43],[12,43.65],[13,43.74],
  [14,43.32],[15,43.58],[16,43.77],[17,43.47],[18,42.94],[19,43.74],[20,43.62],[21,44.22],[22,42.87],[23,43.77],
  [24,43.47],[25,43.62],[26.1,44.15],[27.1,42.94],[28,43.62],[29,43.62],[30,43.7],[31,43.4],[32,43.6],[33,44.15],
  [35.9,43.62],[38.9,43.7],[39.9,43.43],[45.9,43.35],[48,43.7],[49,43.5],[50,43.5],[51,43.9]];
const ca456R = [[1.8,17.24],[3,16.1],[4,16.66],[5,16.85],[6,16.36],[7,16.9],[8,16.7],[9,16.66],[10,16.1],[11,16.66],
  [12,16.74],[13,16.51],[14,16.74],[15,16.66],[16,16.55],[28.9,16.82],[29.9,16.55],[30.9,16.51],[31.9,17.09],
  [33.9,16.44],[34.9,16.44],[35.9,17.2],[36.9,16.21],[37.9,16.93],[38.9,16.78],[39.9,16.33],[41.9,16.18],[42.9,16.9],
  [43.9,16.82],[44.9,16.74],[45.9,16.51],[46.9,16.59],[48.9,16.66],[49.9,16.4],[50.9,16.93],[51.9,16.3],[52.9,16.55],
  [53.9,16.55],[54.9,16.4],[55.9,17.09],[56.9,16.59],[57.9,16.82],[58.9,16.9],[59.9,16.66],[60.9,16.66],[61.9,16.36]];
const ca546R = [[1.8,-2.48],[3,-2.68],[4,-2.45],[5,-2.48],[6,-2.68],[7,-2.46],[8,-2.5],[9,-2.66],[10,-2.6],[11,-2.57],
  [12,-2.43],[13,-2.62],[14,-2.46],[15,-2.63],[16,-2.62],[28.9,-2.65],[29.9,-2.6],[30.9,-2.75],[31.9,-2.55],[32.9,-2.8],
  [33.9,-2.7],[34.9,-2.85],[35.9,-2.3],[36.9,-2.8],[37.9,-2.65],[38.9,-2.75],[39.9,-2.8],[41.9,-2.75],[42.9,-2.65],
  [43.9,-2.8],[44.9,-2.7],[45.9,-2.65],[46.9,-2.7],[47.9,-2.75],[48.9,-2.6],[49.9,-2.55],[50.9,-2.8],[51.9,-2.85],
  [52.9,-2.7],[53.9,-2.8],[54.9,-2.75],[55.9,-2.6],[56.9,-2.55],[57.9,-2.65],[58.9,-2.7],[59.9,-2.7],[60.9,-2.75],[61.9,-2.85]];
const ca448R = [[1.8,42.99],[3,44.07],[4,43.32],[5,43.62],[6,43.77],[7,43.4],[8,43.52],[9,43.77],[10,43.8],[12,43.32],
  [13,44.03],[14,43.17],[15,43.92],[16,43.7],[30.9,43.8],[31.9,43.32],[32.9,43.44],[33.9,43.92],[34.9,43.85],[35.9,43.02],
  [36.9,43.92],[37.9,43.55],[38.9,43.5],[39.9,43.7],[41.9,43.44],[42.9,43.32],[43.9,43.62],[44.9,43.62],[45.9,43.62],
  [46.9,43.62],[48.9,43.43],[49.9,43.7],[50.9,43.2],[51.9,43.5],[52.9,44.03],[53.9,43.58],[54.9,43.8],[55.9,43.6],
  [56.9,43.55],[57.9,43.88],[58.9,43.26],[59.9,43.7],[60.9,43.62],[61.9,43.88]];

// ---- layout ----
const W = 1262, H = 847, plotH = 176.5;
const parse = d3.timeParse("%Y-%m-%d");

const cols = [
  {side: "L", start: parse("2014-06-21"), end: parse("2014-08-16"), x0: 80, x1: 584, ticks: leftTicks.map(parse),
   starDay: potterDayL, titleX: 32},
  {side: "R", start: parse("2014-12-10"), end: parse("2015-02-10"), x0: 746, x1: 1252, ticks: rightTicks.map(parse),
   starDay: potterDayR, titleX: 698}
];
const rows = [
  {key: "456", domain: [12, 20], step: 2, minor: 0.4, top: 23.3, line: "#ff0000", band: "#ffd2d2", lw: 4},
  {key: "546", domain: [-5, -1], step: 1, minor: 0.2, top: 266, line: "#0000ff", band: "#c9ccf7", lw: 4},
  {key: "448", domain: [40, 48], step: 2, minor: 0.4, top: 510, line: "#000000", band: "#cfcfcf", lw: 3.6}
];
const series = {
  L456: {obs: obs456L, mean: mean456L, ca: ca456L},
  L546: {obs: obs546L, mean: mean546L, ca: ca546L},
  L448: {obs: obs448L, mean: mean448L, ca: ca448L},
  R456: {obs: obs456R, mean: mean456R, ca: ca456R},
  R546: {obs: obs546R, mean: mean546R, ca: ca546R},
  R448: {obs: obs448R, mean: mean448R, ca: ca448R}
};

const svg = d3.select("#chart").append("svg").attr("width", W).attr("height", H);
const defs = svg.append("defs");
const shadow = defs.append("filter").attr("id", "shadow")
  .attr("x", "-60%").attr("y", "-60%").attr("width", "220%").attr("height", "220%");
shadow.append("feDropShadow").attr("dx", 1.5).attr("dy", 2.5).attr("stdDeviation", 2)
  .attr("flood-color", "#000").attr("flood-opacity", 0.45);
const grad = defs.append("radialGradient").attr("id", "starFill");
grad.append("stop").attr("offset", "0%").attr("stop-color", "#fffde6");
grad.append("stop").attr("offset", "100%").attr("stop-color", "#efe77a");

const star = d3.symbol(d3.symbolStar);

function drawPanel(col, row) {
  const s = series[col.side + row.key];
  const x = d3.scaleTime().domain([col.start, col.end]).range([col.x0, col.x1]);
  const y = d3.scaleLinear().domain(row.domain).range([row.top + plotH, row.top]);
  const T = d => new Date(+col.start + d * 864e5);
  const g = svg.append("g");

  const clipId = "clip" + col.side + row.key;
  defs.append("clipPath").attr("id", clipId).append("rect")
    .attr("x", col.x0).attr("y", row.top).attr("width", col.x1 - col.x0).attr("height", plotH);
  const plot = g.append("g").attr("clip-path", `url(#${clipId})`);

  // std dev band
  const area = d3.area().x(d => x(T(d[0]))).y0(d => y(d[1] - d[2])).y1(d => y(d[1] + d[2]));
  plot.selectAll("path.band").data(s.mean).join("path").attr("class", "band")
    .attr("d", area).attr("fill", row.band);

  // single observations, spread evenly across each span
  const pts = s.obs.flatMap(([t0, t1, vals]) =>
    vals.map((v, i) => [t0 + (i + 0.5) * (t1 - t0) / vals.length, v]));
  plot.selectAll("rect.obs").data(pts).join("rect").attr("class", "obs")
    .attr("x", d => x(T(d[0])) - 1.6).attr("y", d => y(d[1]) - 1.6)
    .attr("width", 3.2).attr("height", 3.2).attr("fill", "#0b800b");

  // CA target daily averages
  plot.selectAll("circle.ca").data(s.ca).join("circle").attr("class", "ca")
    .attr("cx", d => x(T(d[0]))).attr("cy", d => y(d[1])).attr("r", 4).attr("fill", "#6a2bd0");

  // 24h mean
  const line = d3.line().x(d => x(T(d[0]))).y(d => y(d[1]));
  plot.selectAll("path.mean").data(s.mean).join("path").attr("class", "mean")
    .attr("d", line).attr("fill", "none").attr("stroke", row.line)
    .attr("stroke-width", row.lw).attr("stroke-linejoin", "round");

  // x axis
  const xa = g.append("g").attr("transform", `translate(0,${row.top + plotH})`)
    .call(d3.axisBottom(x).tickValues(col.ticks).tickFormat(d3.timeFormat("%m/%d")).tickSize(9).tickSizeOuter(0));
  xa.attr("font-family", null).attr("font-size", null);
  xa.select(".domain").attr("stroke", "#6b6b6b").attr("stroke-width", 2.5);
  xa.selectAll(".tick line").attr("stroke", "#6b6b6b").attr("stroke-width", 2.5);
  xa.selectAll(".tick text").attr("x", 0).attr("y", 0).attr("dy", null)
    .attr("text-anchor", "end").attr("transform", "translate(5,31) rotate(-30)")
    .attr("fill", "#555").attr("font-size", 20);

  // y axis with minor ticks
  const [lo, hi] = row.domain;
  const minors = d3.range(Math.round((hi - lo) / row.minor) + 1).map(i => lo + i * row.minor);
  const majors = d3.range(Math.round((hi - lo) / row.step) + 1).map(i => lo + i * row.step);
  const ym = g.append("g").attr("transform", `translate(${col.x0},0)`)
    .call(d3.axisLeft(y).tickValues(minors).tickFormat("").tickSize(6).tickSizeOuter(0));
  ym.select(".domain").remove();
  ym.selectAll(".tick line").attr("stroke", "#6b6b6b").attr("stroke-width", 2);
  const ya = g.append("g").attr("transform", `translate(${col.x0},0)`)
    .call(d3.axisLeft(y).tickValues(majors).tickFormat(d => String(d)).tickSize(11).tickSizeOuter(0).tickPadding(3));
  ya.attr("font-family", null).attr("font-size", null);
  ya.select(".domain").attr("stroke", "#6b6b6b").attr("stroke-width", 2.5);
  ya.selectAll(".tick line").attr("stroke", "#6b6b6b").attr("stroke-width", 2.5);
  ya.selectAll(".tick text").attr("fill", "#555").attr("font-size", 20).attr("dy", "0.36em");

  // y title
  const title = g.append("text")
    .attr("transform", `translate(${col.titleX},${row.top + plotH / 2}) rotate(-90)`)
    .attr("text-anchor", "middle").attr("fill", "#555").attr("font-size", 22);
  title.append("tspan").attr("font-family", "'Liberation Serif', 'DejaVu Serif', serif")
    .attr("font-style", "italic").text("δ");
  title.append("tspan").text(row.key + " (per mil)");

  // Potter star
  const ri = rows.indexOf(row);
  g.append("path").attr("d", star.size(200)())
    .attr("transform", `translate(${x(T(col.starDay))},${y(potter[ri])})`)
    .attr("fill", "url(#starFill)").attr("stroke", "#776b14").attr("stroke-width", 1.6)
    .attr("filter", "url(#shadow)");

  // year break label
  if (col.side === "R") {
    g.append("text").attr("class", "gill").attr("x", x(parse("2015-01-01"))).attr("y", row.top + plotH - 8)
      .attr("text-anchor", "middle").attr("font-size", 21).attr("fill", "#000").text("2014|2015");
  }
}

cols.forEach(col => rows.forEach(row => drawPanel(col, row)));

// ---- legends ----
const leg1 = svg.append("g");
leg1.append("rect").attr("x", 30).attr("y", 778).attr("width", 440).attr("height", 54)
  .attr("fill", "#fff").attr("stroke", "#000").attr("stroke-width", 2.5);
leg1.append("path").attr("d", star.size(120)()).attr("transform", "translate(46,805)")
  .attr("fill", "url(#starFill)").attr("stroke", "#776b14").attr("stroke-width", 1.3).attr("filter", "url(#shadow)");
leg1.append("text").attr("class", "gill").attr("x", 60).attr("y", 817).attr("font-size", 31)
  .attr("fill", "#000").text("MHD 2010 Average (Potter)");

const leg2 = svg.append("g");
leg2.append("rect").attr("x", 573).attr("y", 747).attr("width", 659).attr("height", 115)
  .attr("fill", "#fff").attr("stroke", "#000").attr("stroke-width", 3);
leg2.append("circle").attr("cx", 613).attr("cy", 797).attr("r", 10.5).attr("fill", "#660066");
const legStyle = t => t.attr("class", "gill").attr("font-size", 24).attr("letter-spacing", 0.8).attr("fill", "#000");
leg2.append("text").attr("x", 655).attr("y", 806).call(legStyle).text("CA target, Daily Avg");
[["#ff0000", 787], ["#0000ff", 794], ["#000000", 802]].forEach(([c, yy]) =>
  leg2.append("rect").attr("x", 927).attr("y", yy).attr("width", 47).attr("height", 4).attr("fill", c));
leg2.append("text").attr("x", 990).attr("y", 806).call(legStyle).text("Obs, 24h mean");
leg2.append("rect").attr("x", 590).attr("y", 811).attr("width", 47).attr("height", 30).attr("fill", "#b5b5b5");
leg2.append("text").attr("x", 655).attr("y", 836).call(legStyle).text("Obs, 24h std dev");
leg2.append("path").attr("d", d3.symbol(d3.symbolDiamond).size(260)()).attr("transform", "translate(950,826) scale(0.85,1)")
  .attr("fill", "#0b6b3f");
leg2.append("text").attr("x", 990).attr("y", 836).call(legStyle).text("Single Observation");
</script>
</body>
</html>
